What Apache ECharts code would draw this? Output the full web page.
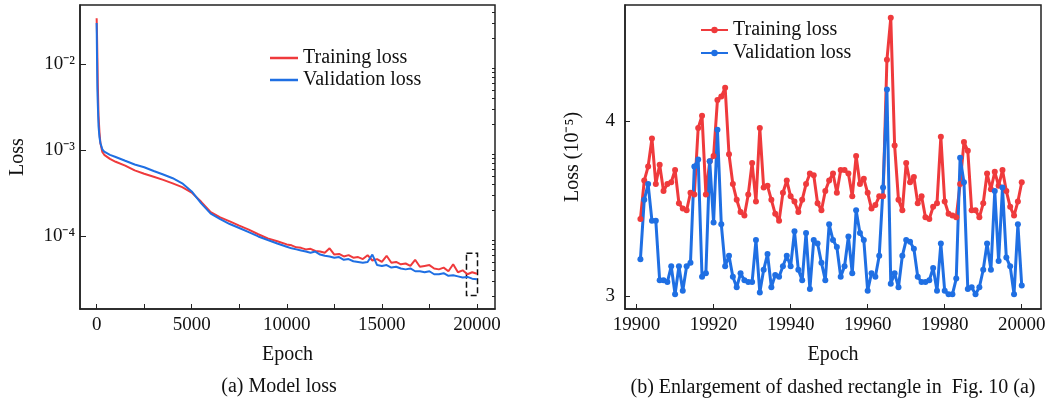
<!DOCTYPE html>
<html>
<head>
<meta charset="utf-8">
<script src="https://cdn.jsdelivr.net/npm/echarts@6/dist/echarts.min.js"></script>
<style>
  html, body { margin: 0; padding: 0; background: #fff; }
  #chart { width: 1051px; height: 408px; }
</style>
</head>
<body>
<div id="chart"></div>
<script>
// (a) model loss, whole run
const epochs = [0, 20, 40, 60, 100, 150, 200, 300, 400, 700, 1000, 1500, 2000, 2500, 3000, 3500, 4000, 4500,
  5000, 5500, 6000, 6500, 7000, 7500, 8000, 8500, 9000, 9500,
  10000, 10250, 10500, 10750, 11000, 11250, 11500, 11750, 12000, 12250, 12500, 12750, 13000, 13250, 13500, 13750,
  14000, 14250, 14500, 14750, 15000, 15250, 15500, 15750, 16000, 16250, 16500, 16750, 17000, 17250, 17500, 17750,
  18000, 18250, 18500, 18750, 19000, 19250, 19500, 19750, 20000]
const trainLoss = [0.034, 0.022, 0.012, 0.006, 0.0025, 0.0016, 0.0012, 0.00095, 0.00088, 0.00079, 0.00073, 0.00066,
  0.00058, 0.00053, 0.00049, 0.00045, 0.00041, 0.00037, 0.00032, 0.00025, 0.00019, 0.000165, 0.000148, 0.000132,
  0.000119, 0.000105, 0.000094, 0.000087,
  8.0e-5, 7.8e-5, 7.4e-5, 7.3e-5, 7.0e-5, 7.1e-5, 6.7e-5, 6.6e-5, 6.4e-5, 7.2e-5, 6.1e-5, 6.2e-5, 5.8e-5, 6.0e-5,
  5.6e-5, 5.7e-5, 5.4e-5, 6.0e-5, 5.2e-5, 5.4e-5, 5.0e-5, 5.9e-5, 4.9e-5, 5.0e-5, 4.7e-5, 4.8e-5, 4.5e-5, 5.3e-5,
  4.4e-5, 4.5e-5, 4.6e-5, 4.2e-5, 4.1e-5, 4.3e-5, 3.9e-5, 4.7e-5, 3.8e-5, 4.0e-5, 3.6e-5, 3.8e-5, 3.65e-5]
const valLoss = [0.030, 0.012, 0.005, 0.0035, 0.0019, 0.0014, 0.0012, 0.00102, 0.00096, 0.00088, 0.00083, 0.00075,
  0.00068, 0.00063, 0.00057, 0.00052, 0.00047, 0.00041, 0.00033, 0.00024, 0.000182, 0.000157, 0.000138, 0.000124,
  0.000111, 0.000099, 0.000090, 0.000082,
  7.5e-5, 7.2e-5, 7.0e-5, 6.8e-5, 6.6e-5, 6.4e-5, 6.6e-5, 6.1e-5, 5.9e-5, 5.8e-5, 5.6e-5, 5.7e-5, 5.3e-5, 5.4e-5,
  5.1e-5, 5.0e-5, 4.9e-5, 5.0e-5, 6.1e-5, 4.6e-5, 4.5e-5, 4.6e-5, 4.3e-5, 4.4e-5, 4.2e-5, 4.1e-5, 4.2e-5, 3.9e-5,
  3.9e-5, 3.8e-5, 3.9e-5, 3.6e-5, 3.6e-5, 3.7e-5, 3.45e-5, 3.5e-5, 3.4e-5, 3.3e-5, 3.35e-5, 3.2e-5, 3.15e-5]

const epochTicks = [0, 2500, 5000, 7500, 10000, 12500, 15000, 17500, 20000]
const epochLabels = [0, 5000, 10000, 15000, 20000]
const lossMajorTicks = [1e-4, 1e-3, 1e-2]
const lossMinorTicks = [2e-5, 3e-5, 4e-5, 5e-5, 6e-5, 7e-5, 8e-5, 9e-5,
  2e-4, 3e-4, 4e-4, 5e-4, 6e-4, 7e-4, 8e-4, 9e-4,
  2e-3, 3e-3, 4e-3, 5e-3, 6e-3, 7e-3, 8e-3, 9e-3, 2e-2, 3e-2, 4e-2]
// dashed box: [epoch from, epoch to], [loss top, loss bottom]
const boxEpochs = [19450, 20030]
const boxLoss = [6.3e-5, 2.04e-5]

// (b) last 100 epochs, loss in 1e-5
const zoomEpochs = Array.from({ length: 100 }, (_, i) => 19901 + i)
const zoomTrain = [3.44, 3.66, 3.74, 3.90, 3.64, 3.75, 3.60, 3.64, 3.65, 3.72,
  3.53, 3.50, 3.49, 3.59, 3.58, 3.96, 4.03, 3.58, 3.77, 3.80,
  4.12, 4.14, 4.19, 3.81, 3.64, 3.55, 3.48, 3.46, 3.58, 3.76,
  3.54, 3.96, 3.62, 3.63, 3.55, 3.47, 3.43, 3.59, 3.66, 3.57,
  3.54, 3.48, 3.55, 3.64, 3.70, 3.69, 3.53, 3.49, 3.60, 3.66,
  3.70, 3.59, 3.72, 3.72, 3.70, 3.57, 3.80, 3.64, 3.67, 3.59,
  3.50, 3.52, 3.57, 3.57, 4.35, 4.59, 3.86, 3.55, 3.49, 3.76,
  3.65, 3.68, 3.53, 3.57, 3.45, 3.44, 3.51, 3.53, 3.91, 3.54,
  3.47, 3.46, 3.45, 3.64, 3.88, 3.83, 3.49, 3.49, 3.45, 3.53,
  3.70, 3.61, 3.71, 3.63, 3.72, 3.60, 3.51, 3.46, 3.54, 3.65]
const zoomVal = [3.21, 3.55, 3.64, 3.43, 3.43, 3.09, 3.09, 3.08, 3.17, 3.01,
  3.17, 3.03, 3.17, 3.19, 3.74, 3.78, 3.11, 3.13, 3.77, 3.42,
  3.95, 3.41, 3.17, 3.23, 3.11, 3.05, 3.13, 3.09, 3.08, 3.08,
  3.32, 3.02, 3.15, 3.24, 3.05, 3.12, 3.11, 3.17, 3.23, 3.17,
  3.37, 3.15, 3.09, 3.36, 3.04, 3.32, 3.30, 3.19, 3.09, 3.41,
  3.32, 3.28, 3.11, 3.17, 3.34, 3.13, 3.49, 3.36, 3.32, 3.03,
  3.13, 3.11, 3.23, 3.62, 4.18, 3.07, 3.13, 3.05, 3.23, 3.32,
  3.31, 3.27, 3.11, 3.08, 3.08, 3.09, 3.16, 3.03, 3.30, 3.03,
  3.01, 3.01, 3.10, 3.79, 3.65, 3.04, 3.05, 3.01, 3.05, 3.15,
  3.30, 3.15, 3.60, 3.20, 3.62, 3.22, 3.17, 3.01, 3.41, 3.06]
const zoomTicks = [19900, 19920, 19940, 19960, 19980, 20000]
const zoomLossTicks = [3, 4]

const RED = '#ef3a3c'
const BLUE = '#1f6fe3'
const FONT = 'Liberation Serif'
const SUP = { '-': '\u207b', '0': '\u2070', '1': '\u00b9', '2': '\u00b2', '3': '\u00b3', '4': '\u2074', '5': '\u2075' }

function pairs(xs, ys) {
  return xs.map((x, i) => [x, ys[i]])
}

const chart = echarts.init(document.getElementById('chart'))
chart.setOption({
  backgroundColor: '#fff',
  animation: false,
  textStyle: { fontFamily: FONT, color: '#111' },
  grid: [
    { left: 80, top: 5, width: 415, height: 304, show: true, borderColor: '#222', borderWidth: 1.5 },
    { left: 625, top: 5, width: 416, height: 304, show: true, borderColor: '#222', borderWidth: 1.5 }
  ],
  legend: [
    {
      orient: 'vertical', left: 270, top: 48, itemGap: 2, itemWidth: 28, itemHeight: 2.5,
      selectedMode: false, padding: 0,
      textStyle: { fontFamily: FONT, fontSize: 20, color: '#111' },
      data: [{ name: 'Training loss', icon: 'rect' }, { name: 'Validation loss', icon: 'rect' }]
    },
    {
      orient: 'vertical', left: 700, top: 20, itemGap: 3, itemWidth: 27, itemHeight: 8,
      selectedMode: false, padding: 0,
      textStyle: { fontFamily: FONT, fontSize: 20, color: '#111' },
      data: ['Training loss', 'Validation loss']
    }
  ],
  xAxis: [
    {
      type: 'value', gridIndex: 0, min: -875, max: 20950,
      name: 'Epoch', nameLocation: 'middle', nameGap: 36,
      nameTextStyle: { fontFamily: FONT, fontSize: 20, color: '#111' },
      axisLine: { onZero: false, lineStyle: { color: '#222', width: 1.5 } },
      axisTick: { inside: true, length: 5, customValues: epochTicks, lineStyle: { color: '#222' } },
      axisLabel: { customValues: epochLabels, margin: 7, fontFamily: FONT, fontSize: 19, color: '#111',
        formatter: v => String(v) },
      splitLine: { show: false }
    },
    {
      type: 'value', gridIndex: 1, min: 19897, max: 20005,
      name: 'Epoch', nameLocation: 'middle', nameGap: 36,
      nameTextStyle: { fontFamily: FONT, fontSize: 20, color: '#111' },
      axisLine: { onZero: false, lineStyle: { color: '#222', width: 1.5 } },
      axisTick: { inside: true, length: 5, customValues: zoomTicks, lineStyle: { color: '#222' } },
      axisLabel: { customValues: zoomTicks, margin: 7, fontFamily: FONT, fontSize: 19, color: '#111',
        formatter: v => String(v) },
      splitLine: { show: false }
    }
  ],
  yAxis: [
    {
      type: 'log', gridIndex: 0, min: 1.42e-5, max: 0.0485,
      name: 'Loss', nameLocation: 'middle', nameGap: 52,
      nameTextStyle: { fontFamily: FONT, fontSize: 20, color: '#111' },
      axisLine: { show: true, onZero: false, lineStyle: { color: '#222', width: 1.5 } },
      axisTick: { inside: true, length: 6, customValues: lossMajorTicks, lineStyle: { color: '#222' } },
      axisLabel: {
        customValues: lossMajorTicks, margin: 5, fontFamily: FONT, fontSize: 19, color: '#111',
        formatter: v => '10' + String(Math.round(Math.log10(v))).split('').map(c => SUP[c]).join('')
      },
      splitLine: { show: false }
    },
    {
      type: 'log', gridIndex: 0, min: 1.42e-5, max: 0.0485,
      axisLine: { show: false, onZero: false },
      axisTick: { inside: true, length: 3, customValues: lossMinorTicks, lineStyle: { color: '#222' } },
      axisLabel: { show: false },
      splitLine: { show: false }
    },
    {
      type: 'value', gridIndex: 1, min: 2.926, max: 4.663,
      name: 'Loss (10\u207b\u2075)', nameLocation: 'middle', nameGap: 42,
      nameTextStyle: { fontFamily: FONT, fontSize: 20, color: '#111' },
      axisLine: { show: true, onZero: false, lineStyle: { color: '#222', width: 1.5 } },
      axisTick: { inside: true, length: 5, customValues: zoomLossTicks, lineStyle: { color: '#222' } },
      axisLabel: { customValues: zoomLossTicks, margin: 10, fontFamily: FONT, fontSize: 19, color: '#111' },
      splitLine: { show: false }
    }
  ],
  series: [
    {
      name: 'Training loss', type: 'line', xAxisIndex: 1, yAxisIndex: 2,
      data: pairs(zoomEpochs, zoomTrain),
      symbol: 'circle', symbolSize: 6, showSymbol: true,
      lineStyle: { color: RED, width: 3 }, itemStyle: { color: RED }
    },
    {
      name: 'Validation loss', type: 'line', xAxisIndex: 1, yAxisIndex: 2,
      data: pairs(zoomEpochs, zoomVal),
      symbol: 'circle', symbolSize: 6, showSymbol: true,
      lineStyle: { color: BLUE, width: 3 }, itemStyle: { color: BLUE }
    },
    {
      name: 'Training loss', type: 'line', xAxisIndex: 0, yAxisIndex: 0,
      data: pairs(epochs, trainLoss), symbol: 'none',
      lineStyle: { color: RED, width: 2 }, itemStyle: { color: RED }
    },
    {
      name: 'Validation loss', type: 'line', xAxisIndex: 0, yAxisIndex: 0,
      data: pairs(epochs, valLoss), symbol: 'none',
      lineStyle: { color: BLUE, width: 2 }, itemStyle: { color: BLUE },
      markArea: {
        silent: true,
        itemStyle: { color: 'rgba(0,0,0,0)', borderColor: '#111', borderWidth: 1.5, borderType: 'dashed' },
        data: [[{ coord: [boxEpochs[0], boxLoss[0]] }, { coord: [boxEpochs[1], boxLoss[1]] }]]
      }
    }
  ],
  graphic: [
    {
      type: 'text', x: 279, y: 387,
      style: { text: '(a) Model loss', font: '20px "Liberation Serif"', fill: '#111',
        align: 'center', verticalAlign: 'middle', textAlign: 'center', textVerticalAlign: 'middle' }
    },
    {
      type: 'text', x: 833, y: 388,
      style: { text: '(b) Enlargement of dashed rectangle in  Fig. 10 (a)', font: '20px "Liberation Serif"', fill: '#111',
        align: 'center', verticalAlign: 'middle', textAlign: 'center', textVerticalAlign: 'middle' }
    }
  ]
})
</script>
</body>
</html>
